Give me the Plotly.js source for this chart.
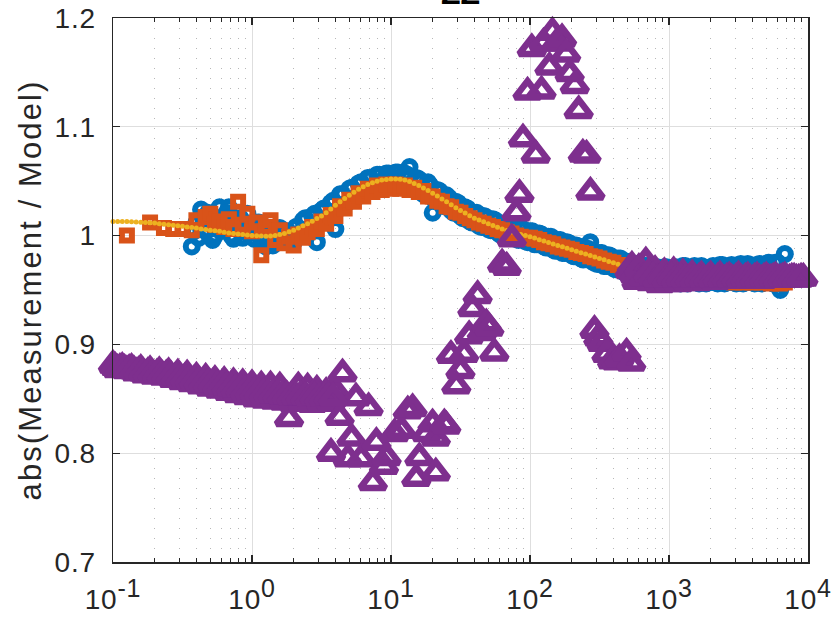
<!DOCTYPE html>
<html>
<head>
<meta charset="utf-8">
<script src="https://cdn.plot.ly/plotly-3.0.1.min.js"></script>
<style>
html,body{margin:0;padding:0;background:#fff;}
#chart{width:837px;height:620px;}
#chart .ytitle{letter-spacing:2.1px;}
#chart .xtick text, #chart .ytick text{letter-spacing:0.8px;}
</style>
</head>
<body>
<div id="chart"></div>
<script>
// Frequency grid (Hz)
const freq = [
0.1000,0.1080,0.1166,0.1259,0.1359,0.1468,0.1585,0.1711,0.1848,0.1995,
0.2154,0.2326,0.2512,0.2712,0.2929,0.3162,0.3415,0.3687,0.3981,0.4299,
0.4642,0.5012,0.5412,0.5843,0.6310,0.6813,0.7356,0.7943,0.8577,0.9261,
1.000,1.080,1.166,1.259,1.359,1.468,1.585,1.711,1.848,1.995,
2.154,2.326,2.512,2.712,2.929,3.162,3.415,3.687,3.981,4.299,
4.642,5.012,5.412,5.843,6.310,6.813,7.356,7.943,8.577,9.261,
10.00,10.80,11.66,12.59,13.59,14.68,15.85,17.11,18.48,19.95,
21.54,23.26,25.12,27.12,29.29,31.62,34.15,36.87,39.81,42.99,
46.42,50.12,54.12,58.43,63.10,68.13,73.56,79.43,85.77,92.61,
100.0,108.0,116.6,125.9,135.9,146.8,158.5,171.1,184.8,199.5,
215.4,232.6,251.2,271.2,292.9,316.2,341.5,368.7,398.1,429.9,
464.2,501.2,541.2,584.3,631.0,681.3,735.6,794.3,857.7,926.1,
1000,1080,1166,1259,1359,1468,1585,1711,1848,1995,
2154,2326,2512,2712,2929,3162,3415,3687,3981,4299,
4642,5012,5412,5843,6310,6813,7356,7943,8577,9261
];
// In-between frequencies (Hz)
const freqMid = [
0.1039,0.1122,0.1212,0.1308,0.1413,0.1525,0.1647,0.1778,0.1920,0.2073,
0.2239,0.2417,0.2610,0.2818,0.3043,0.3286,0.3548,0.3831,0.4137,0.4467,
0.4823,0.5208,0.5623,0.6072,0.6556,0.7080,0.7644,0.8254,0.8913,0.9624,
1.039,1.122,1.212,1.308,1.413,1.525,1.647,1.778,1.920,2.073,
2.239,2.417,2.610,2.818,3.043,3.286,3.548,3.831,4.137,4.467,
4.823,5.208,5.623,6.072,6.556,7.080,7.644,8.254,8.913,9.624,
10.39,11.22,12.12,13.08,14.13,15.25,16.47,17.78,19.20,20.73,
22.39,24.17,26.10,28.18,30.43,32.86,35.48,38.31,41.37,44.67,
48.23,52.08,56.23,60.72,65.56,70.80,76.44,82.54,89.13,96.24,
103.9,112.2,121.2,130.8,141.3,152.5,164.7,177.8,192.0,207.3,
223.9,241.7,261.0,281.8,304.3,328.6,354.8,383.1,413.7,446.7,
482.3,520.8,562.3,607.2,655.6,708.0,764.4,825.4,891.3,962.4,
1039,1122,1212,1308,1413,1525,1647,1778,1920,2073,
2239,2417,2610,2818,3043,3286,3548,3831,4137,4467,
4823,5208,5623,6072,6556,7080,7644,8254,8913,9624
];

// Series 1 (blue circles) on freq
const blueVals = [
null,null,null,null,null,null,null,null,null,null,
null,null,null,null,null,null,null,0.990,1.012,1.024,
1.004,1.011,1.000,1.026,1.018,1.026,0.997,1.009,0.998,1.020,
1.003,1.008,0.993,0.990,1.004,0.996,1.007,0.995,1.003,0.994,
1.001,1.014,1.005,1.018,0.994,1.023,1.015,1.030,1.006,1.038,
1.028,1.043,1.034,1.048,1.040,1.053,1.043,1.056,1.045,1.057,
1.046,1.058,1.046,1.057,1.063,1.043,1.052,1.038,1.049,1.021,
1.042,1.028,1.037,1.023,1.031,1.018,1.026,1.013,1.021,1.009,
1.018,1.006,1.015,1.003,1.011,0.999,1.009,0.997,1.006,0.995,
1.004,0.992,1.002,0.990,0.999,0.987,0.996,0.984,0.994,0.982,
0.991,0.979,0.988,0.994,0.975,0.984,0.972,0.982,0.970,0.979,
0.967,0.976,0.964,0.974,0.962,0.972,0.959,0.971,0.958,0.971,
0.957,0.970,0.957,0.972,0.956,0.971,0.957,0.972,0.956,0.971,
0.957,0.973,0.956,0.972,0.957,0.973,0.956,0.974,0.957,0.973,
0.956,0.974,0.957,0.975,0.950,0.983,null,null,null,null
];
// Series 1 (blue circles) on freqMid
const blueMidVals = [
null,null,null,null,null,null,null,null,null,null,
null,null,null,null,null,null,null,1.004,0.998,1.015,
1.021,0.996,1.013,1.005,1.021,1.000,1.012,1.016,1.003,1.010,
0.997,1.012,1.001,0.996,0.991,1.005,0.999,1.004,0.996,1.008,
1.003,1.016,1.006,1.020,1.011,1.025,1.017,1.032,1.024,1.038,
1.030,1.044,1.035,1.049,1.041,1.053,1.044,1.056,1.046,1.057,
1.047,1.058,1.046,1.056,1.044,1.053,1.050,1.038,1.046,1.032,
1.041,1.027,1.035,1.021,1.030,1.016,1.025,1.012,1.021,1.008,
1.017,1.005,1.014,1.001,1.011,0.998,1.008,0.996,1.006,0.994,
1.004,0.992,1.001,0.989,0.999,0.986,0.996,0.984,0.993,0.981,
0.990,0.978,0.988,0.976,0.974,0.984,0.972,0.981,0.969,0.979,
0.966,0.976,0.964,0.974,0.962,0.972,0.959,0.971,0.958,0.971,
0.957,0.971,0.956,0.972,0.957,0.972,0.956,0.971,0.957,0.972,
0.956,0.973,0.957,0.973,0.956,0.974,0.957,0.973,0.956,0.974,
0.957,0.975,0.956,0.975,0.955,null,null,null,null,null
];

// Series 2 (orange squares) on freq
const orangeVals = [
null,null,null,1.000,null,null,null,null,1.012,null,
null,1.007,null,1.006,null,1.006,null,1.005,1.014,null,
1.017,1.020,1.010,1.013,1.008,1.015,1.006,1.031,1.010,1.020,
1.004,1.012,0.982,1.008,1.014,0.996,1.005,0.993,0.999,0.991,
1.001,0.998,1.003,1.008,1.006,1.013,1.011,1.019,1.018,1.027,
1.025,1.033,1.031,1.039,1.036,1.043,1.040,1.046,1.042,1.047,
1.043,1.047,1.043,1.046,1.042,1.044,1.040,1.041,1.036,1.036,
1.032,1.031,1.027,1.026,1.022,1.021,1.018,1.016,1.014,1.012,
1.011,1.009,1.008,1.006,1.005,1.003,1.002,1.000,0.999,0.998,
0.998,0.997,0.996,0.994,0.993,0.992,0.990,0.989,0.988,0.987,
0.985,0.984,0.983,0.981,0.980,0.979,0.977,0.976,0.975,0.973,
0.972,0.971,0.969,0.968,0.967,0.966,0.965,0.964,0.963,0.962,
0.962,0.961,0.960,0.961,0.959,0.960,0.959,0.960,0.958,0.960,
0.958,0.959,0.958,0.959,0.957,0.959,0.957,0.958,0.957,0.958,
0.957,0.958,0.956,0.958,0.956,0.957,null,null,null,null
];

// Series 3 (yellow dots, model) on freq
const yellowVals = [
1.013,1.013,1.013,1.013,1.0128,1.0125,1.0122,1.012,1.0118,1.0115,
1.011,1.0105,1.010,1.0095,1.009,1.0085,1.008,1.0075,1.007,1.006,
1.0055,1.005,1.0045,1.004,1.003,1.0025,1.002,1.0015,1.001,1.0005,
1.000,0.9998,0.9996,0.9995,0.9997,1.0002,1.001,1.002,1.0035,1.005,
1.007,1.009,1.011,1.0133,1.0157,1.018,1.021,1.0245,1.028,1.031,
1.034,1.037,1.0398,1.0425,1.045,1.047,1.0485,1.050,1.051,1.0515,
1.052,1.052,1.0518,1.051,1.0498,1.048,1.046,1.0438,1.0415,1.039,
1.0363,1.0337,1.031,1.0283,1.0257,1.023,1.0207,1.0183,1.016,1.0143,
1.0127,1.011,1.0093,1.0077,1.006,1.0047,1.0033,1.002,1.001,1.000,
0.999,0.9977,0.9963,0.995,0.9937,0.9923,0.991,0.9897,0.9883,0.987,
0.9857,0.9843,0.983,0.9817,0.9803,0.979,0.9777,0.9763,0.975,0.9737,
0.9723,0.971,0.970,0.969,0.968,0.9673,0.9667,0.966,0.9653,0.9647,
0.964,0.9637,0.9634,0.9632,0.963,0.9628,0.9626,0.9624,0.9622,0.962,
0.962,0.9618,0.9616,0.9615,0.9614,0.9613,0.9612,0.9611,0.961,0.961,
0.961,0.961,0.961,0.961,0.961,0.961,0.961,0.961,0.961,0.961
];

// Series 4 (purple triangles)
const purpleFreq = [
0.1000,0.1080,0.1166,0.1259,0.1359,0.1468,0.1585,0.1711,0.1848,0.1995,
0.2154,0.2326,0.2512,0.2712,0.2929,0.3162,0.3415,0.3687,0.3981,0.4299,
0.4642,0.5012,0.5412,0.5843,0.6310,0.6813,0.7356,0.7943,0.8577,0.9261,
1.000,1.080,1.166,1.259,1.359,1.468,1.585,1.711,1.848,1.995,
2.154,2.326,2.512,2.712,2.929,3.162,3.415,3.687,3.981,
3.70,4.27,4.48,4.90,5.20,5.60,6.10,6.90,7.40,7.85,
8.90,9.30,10.6,11.9,13.2,14.3,15.2,16.0,18.0,19.9,
21.0,21.0,24.2,25.0,
27.0,29.5,31.6,33.6,36.5,38.5,42.0,45.0,48.5,51.0,55.4,
63.0,68.0,74.0,80.0,84.0,89.0,96.0,103,110,121,
125,138,145,155,170,182,193,210,224,240,
255,272,291,310,328,355,390,420,440,495,535,
541.2,584.3,631.0,681.3,735.6,794.3,857.7,926.1,
1000,1080,1166,1259,1359,1468,1585,1711,1848,1995,
2154,2326,2512,2712,2929,3162,3415,3687,3981,4299,
4642,5012,5412,5843,6310,6813,7356,7943,8577,9261
];
const purpleVals = [
0.881,0.877,0.879,0.876,0.878,0.874,0.877,0.872,0.876,0.871,
0.875,0.870,0.874,0.868,0.873,0.866,0.872,0.864,0.870,0.862,
0.869,0.860,0.867,0.858,0.866,0.856,0.865,0.854,0.864,0.852,
0.863,0.850,0.862,0.849,0.862,0.848,0.861,0.847,0.832,0.846,
0.861,0.846,0.860,0.845,0.858,0.846,0.856,0.847,0.857,
0.800,0.833,0.873,0.795,0.814,0.851,0.795,0.842,0.773,0.810,
0.788,0.796,0.818,0.821,0.839,0.841,0.777,0.796,0.818,0.827,
0.814,0.782,0.827,0.825,
0.890,0.862,0.876,0.891,0.908,0.933,0.945,0.911,0.919,0.915,0.892,
0.974,0.971,0.997,1.021,1.038,1.089,1.132,1.172,1.074,1.133,
1.177,1.155,1.187,1.177,1.181,1.167,1.149,1.138,1.115,1.075,
1.074,1.040,0.913,0.906,0.901,0.891,0.885,0.884,0.887,0.892,0.883,
0.972,0.958,0.966,0.976,0.957,0.968,0.955,0.966,
0.956,0.967,0.956,0.965,0.957,0.964,0.957,0.963,0.958,0.963,
0.958,0.963,0.959,0.962,0.959,0.963,0.959,0.962,0.959,0.962,
0.959,0.962,0.960,0.962,0.960,0.962,0.960,0.961,0.960,0.961
];
// Series 4 (purple triangles) on freqMid
const purpleMidVals = [
0.879,0.878,0.877,0.877,0.876,0.875,0.874,0.874,0.873,0.873,
0.872,0.872,0.871,0.870,0.869,0.869,0.868,0.867,0.866,0.865,
0.864,0.864,0.862,0.862,0.861,0.860,0.859,0.859,0.857,0.857,
0.856,0.856,0.855,0.855,0.854,0.854,0.853,0.853,0.852,0.852,
0.853,0.852,0.851,0.852,0.851,0.851,0.852,0.851,null,null,
null,null,null,null,null,null,null,null,null,null,
null,null,null,null,null,null,null,null,null,null,
null,null,null,null,null,null,null,null,null,null,
null,null,null,null,null,null,null,null,null,null,
null,null,null,null,null,null,null,null,null,null,
null,null,null,null,null,null,null,null,null,null,
null,0.968,0.964,0.970,0.961,0.965,0.962,0.960,0.963,0.960,
0.962,0.960,0.961,0.960,0.961,0.960,0.961,0.960,0.961,0.960,
0.961,0.960,0.961,0.960,0.961,0.960,0.961,0.960,0.961,0.960,
0.961,0.960,0.961,0.960,0.961,0.960,0.961,0.960,0.961,null
];

// Axis ticks
const xTickVals = [0.1, 1, 10, 100, 1000, 10000];
const xTickExp = ['-1','0','1','2','3','4'];
const xMinorVals = [0.2,0.3,0.4,0.5,0.6,0.7,0.8,0.9,2,3,4,5,6,7,8,9,20,30,40,50,60,70,80,90,200,300,400,500,600,700,800,900,2000,3000,4000,5000,6000,7000,8000,9000];
const yTickVals = [0.7, 0.8, 0.9, 1.0, 1.1, 1.2];
const yTickText = ['0.7','0.8','0.9','1','1.1','1.2'];

const xTickText = xTickExp.map(e => '10<sup><span style="font-size:25px">' + e + '</span></sup>');

const FONT = 'Liberation Sans, Arial, Helvetica, sans-serif';
const AX = '#262626';

const traces = [
  {x: freq.concat(freqMid), y: blueVals.concat(blueMidVals), type: 'scatter', mode: 'markers', cliponaxis: false,
   marker: {symbol: 'circle-open', size: 12, color: '#0072BD', line: {width: 6, color: '#0072BD'}}},
  {x: freq, y: orangeVals, type: 'scatter', mode: 'markers', cliponaxis: false,
   marker: {symbol: 'square-open', size: 10, color: '#D95319', line: {width: 6, color: '#D95319'}}},
  {x: freq, y: yellowVals, type: 'scatter', mode: 'markers', cliponaxis: false,
   marker: {symbol: 'circle', size: 5, color: '#EDB120', line: {width: 0}}},
  {x: purpleFreq.concat(freqMid), y: purpleVals.concat(purpleMidVals), type: 'scatter', mode: 'markers', cliponaxis: false,
   marker: {symbol: 'triangle-up-open', size: 22, color: '#7E2F8E', line: {width: 6.5, color: '#7E2F8E'}}}
];

const layout = {
  width: 837, height: 620,
  margin: {l: 113, r: 29, t: 18, b: 58, pad: 0},
  paper_bgcolor: '#ffffff', plot_bgcolor: '#ffffff',
  showlegend: false,
  font: {family: FONT, color: AX},
  xaxis: {
    type: 'log', range: [-1, 4], autorange: false,
    tickmode: 'array', tickvals: xTickVals, ticktext: xTickText,
    ticks: 'inside', ticklen: 7, tickwidth: 1.3, tickcolor: AX,
    showline: true, linecolor: AX, linewidth: 1.5, mirror: 'allticks',
    showgrid: true, gridcolor: '#dedede', gridwidth: 1, zeroline: false,
    tickfont: {family: FONT, size: 28, color: AX},
    ticklabelstandoff: 12,
    minor: {tickmode: 'array', tickvals: xMinorVals, ticks: 'inside', ticklen: 4, tickwidth: 1, tickcolor: AX,
            showgrid: true, gridcolor: '#b8b8b8', griddash: '1px,9px', gridwidth: 1}
  },
  yaxis: {
    range: [0.7, 1.2], autorange: false,
    tickmode: 'array', tickvals: yTickVals, ticktext: yTickText,
    ticks: 'inside', ticklen: 7, tickwidth: 1.3, tickcolor: AX,
    showline: true, linecolor: AX, linewidth: 1.5, mirror: 'allticks',
    showgrid: true, gridcolor: '#dedede', gridwidth: 1, zeroline: false,
    tickfont: {family: FONT, size: 28, color: AX},
    ticklabelstandoff: 10,
    title: {text: 'abs(Measurement / Model)', font: {family: FONT, size: 31, color: AX}, standoff: 6}
  },
  annotations: [{
    text: '<b>ZZ</b>', xref: 'paper', yref: 'paper', x: 0.5, y: 1, xanchor: 'center', yanchor: 'bottom',
    yshift: 5, showarrow: false, font: {family: FONT, size: 32, color: '#000000'}
  }]
};

Plotly.newPlot('chart', traces, layout, {staticPlot: true, displayModeBar: false});
</script>
</body>
</html>
